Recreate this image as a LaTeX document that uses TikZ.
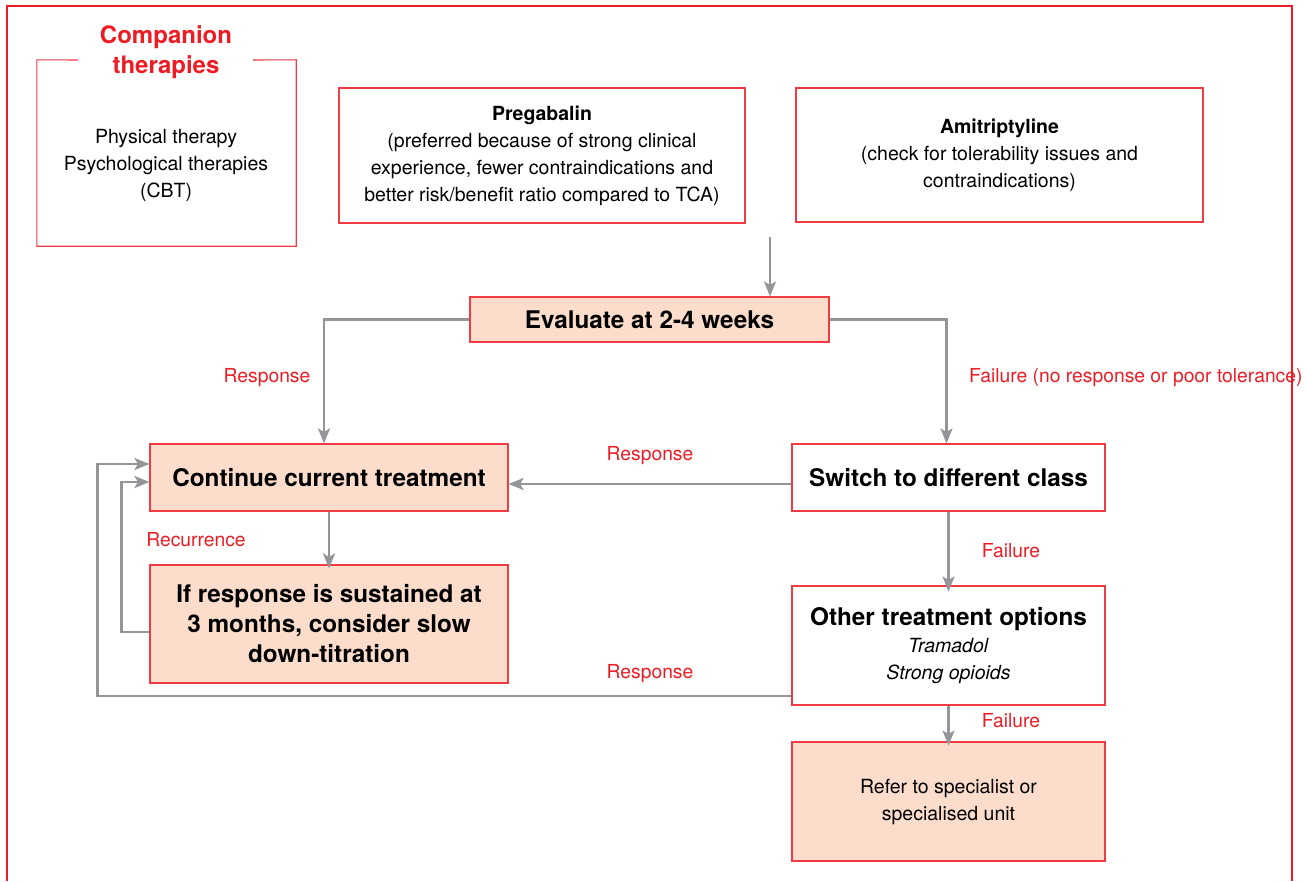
\documentclass[tikz,border=0pt]{standalone}
\usepackage{fontspec}
\setmainfont{TeX Gyre Heros}
\usetikzlibrary{arrows.meta}
\definecolor{fred}{HTML}{ED1C24}
\definecolor{bred}{HTML}{EE3B44}
\definecolor{peach}{HTML}{FCDDCC}
\definecolor{cgray}{HTML}{939598}
\tikzset{
  box/.style={draw=bred, line width=1.1pt, rectangle, align=center, inner sep=0pt},
  pbox/.style={box, fill=peach},
  conn/.style={draw=cgray, line width=2.4pt, -{Stealth[length=15pt,width=12pt,inset=3.5pt]}},
  lab/.style={text=fred, font=\fontsize{19.3}{23}\selectfont, inner sep=0pt},
  body/.style={font=\fontsize{19.5}{27}\selectfont},
  big/.style={font=\fontsize{24.3}{30}\selectfont\bfseries},
}
\begin{document}
\begin{tikzpicture}[x=1pt,y=-1pt]
\useasboundingbox (0,0) rectangle (1309,881);
% outer frame
\draw[fred, line width=1.1pt] (7,881) -- (7,6) -- (1292,6) -- (1292,881);
% companion box
\node[draw=none, minimum width=259pt, minimum height=186pt, inner sep=0pt] (comp) at (166.5,153) {};
\draw[bred, line width=1.1pt] (78,60) -- (comp.north west) -- (comp.south west) -- (comp.south east) -- (comp.north east) -- (253,60);
\node[text=fred, font=\fontsize{24}{29.5}\selectfont\bfseries, align=center, inner sep=0pt] (comptitle) at (166,52) {Companion\\therapies};
\node[body, align=center, inner sep=0pt] (comptext) at (166,165) {Physical therapy\\Psychological therapies\\(CBT)};
% top boxes
\node[box, minimum width=406pt, minimum height=135pt, body] (preg) at (542,155.5) {\textbf{Pregabalin}\\(preferred because of strong clinical\\experience, fewer contraindications and\\better risk/benefit ratio compared to TCA)};
\node[box, minimum width=407pt, minimum height=134pt, body] (ami) at (999.5,155) {\textbf{Amitriptyline}\\(check for tolerability issues and\\contraindications)};
% evaluate
\node[pbox, minimum width=359pt, minimum height=45pt, big] (eval) at (649.5,319.5) {Evaluate at 2-4 weeks};
\coordinate (topstart) at (770,237);
\draw[conn] (topstart) -- (topstart |- eval.north);
% continue, switch
\node[pbox, minimum width=358pt, minimum height=67pt, big] (cont) at (329,477.5) {Continue current treatment};
\node[box, fill=white, minimum width=313pt, minimum height=67pt, big] (switch) at (948.5,477.5) {Switch to different class};
\node[pbox, minimum width=358pt, minimum height=118pt, big] (sust) at (329,624) {If response is sustained at\\3 months, consider slow\\down-titration};
\node[box, fill=white, minimum width=313pt, minimum height=119pt, body] (other) at (948.5,645.5) {{\fontsize{24.3}{30}\selectfont\bfseries Other treatment options}\\\textit{Tramadol}\\\textit{Strong opioids}};
\node[pbox, minimum width=313pt, minimum height=119pt, body] (refer) at (948.5,801.5) {Refer to specialist or\\specialised unit};
% connectors
\draw[conn] (eval.west) -| ([xshift=-5pt]cont.north);
\draw[conn] (eval.east) -| ([xshift=-2pt]switch.north);
\draw[conn] ([yshift=-6.5pt]switch.west) -- ([yshift=-6.5pt]switch.west -| cont.east);
\draw[conn] (cont.south) -- ([yshift=-4pt]sust.north);
\draw[conn] ([yshift=-8pt]sust.west) -- ++(-28,0) |- ([yshift=-4.5pt]cont.west);
\draw[conn] ([yshift=-50.5pt]other.west) -- ++(-694,0) |- ([yshift=13.5pt]cont.west);
\draw[conn] (switch.south) -- ([yshift=-6pt]other.north);
\draw[conn] (other.south) -- ([yshift=-4pt]refer.north);
% labels
\node[lab] (l1) at (267,378) {Response};
\node[lab, anchor=west] (l2) at (969,378) {Failure (no response or poor tolerance)};
\node[lab] (l3) at (650,456) {Response};
\node[lab] (l4) at (196,540) {Recurrence};
\node[lab] (l5) at (1011,551) {Failure};
\node[lab] (l6) at (650,674) {Response};
\node[lab] (l7) at (1011,721) {Failure};
\end{tikzpicture}
\end{document}
